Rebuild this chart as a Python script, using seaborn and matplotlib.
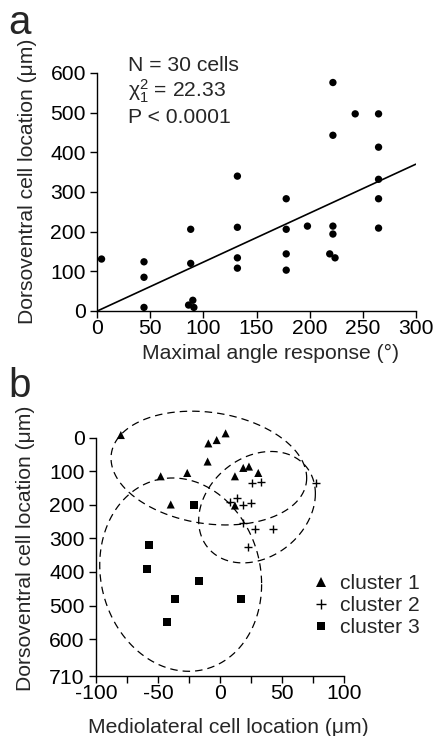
import numpy as np
import pandas as pd
import matplotlib
matplotlib.use("Agg")
import matplotlib.pyplot as plt
import seaborn as sns
from matplotlib.lines import Line2D

# ---------------- data: panel a ----------------
angle = [4, 44, 44, 44, 88, 88, 86, 90, 91,
         132, 132, 132, 132, 178, 178, 178, 178, 198,
         222, 222, 222, 222, 219, 224, 243, 265, 265, 265, 265, 265]
dv_loc = [131, 124, 85, 9, 206, 120, 15, 27, 9,
          340, 211, 134, 108, 283, 206, 144, 103, 214,
          576, 443, 214, 194, 144, 134, 497, 497, 413, 332, 283, 209]
fit_x = [0, 300]
fit_y = [0, 370]
a_xticks = [0, 50, 100, 150, 200, 250, 300]
a_yticks = [0, 100, 200, 300, 400, 500, 600]
stats_lines = ["N = 30 cells", r"$\mathregular{\chi_1^2}$ = 22.33", "P < 0.0001"]

# ---------------- data: panel b ----------------
c1_x = [-80, -9.5, -2.8, 4.4, -10.1, -47.9, -26.5, 11.9, 18.6, 23.2, 30.7, -39.8, 11.9]
c1_y = [-8, 17, 7, -13, 71, 115, 105, 115, 90, 86, 105, 199, 202]
c2_x = [25.4, 32.6, 77.1, 7.9, 13.8, 18.6, 24.6, 18.6, 28.0, 42.8, 22.5]
c2_y = [134, 131, 134, 192, 179, 202, 194, 253, 271, 271, 325]
c3_x = [-21.1, -57.1, -59.2, -17.0, -36.1, 16.5, -42.6]
c3_y = [201, 319, 391, 426, 480, 481, 549]
cluster_names = ["cluster 1", "cluster 2", "cluster 3"]
# ellipse outlines: centre x, centre y, half-width x, half-height y, phase
ell_cx = [-9.1, 29.7, -31.8]
ell_cy = [90.5, 207, 408]
ell_rx = [78.8, 47, 65.2]
ell_ry = [169.5, 166, 288]
ell_phase = [0.175, -0.245, 0.1]
b_xticks = [-100, -50, 0, 50, 100]
b_xminor = [-75, -25, 25, 75]
b_yticks = [0, 100, 200, 300, 400, 500, 600, 710]

# ---------------- style ----------------
sns.set_style("ticks")
plt.rcParams["font.family"] = ["Liberation Sans", "DejaVu Sans"]
plt.rcParams["mathtext.fontset"] = "custom"
plt.rcParams["mathtext.rm"] = "Liberation Sans"
plt.rcParams["mathtext.it"] = "Liberation Sans:italic"
plt.rcParams["axes.unicode_minus"] = False
FS = 15.2

W, H = 435, 736
fig = plt.figure(figsize=(W / 100, H / 100), dpi=100)

def px_axes(left, right, top, bottom):
    return fig.add_axes([left / W, 1 - bottom / H, (right - left) / W, (bottom - top) / H])

def style_axes(ax):
    for s in ["top", "right"]:
        ax.spines[s].set_visible(False)
    for s in ["left", "bottom"]:
        ax.spines[s].set_linewidth(1.0)
        ax.spines[s].set_color("black")
    ax.tick_params(axis="both", which="both", direction="out", length=5.2, width=1.0,
                   colors="black", labelsize=FS)
    ax.tick_params(axis="y", pad=3.0)
    ax.tick_params(axis="x", pad=0.5)
    ax.set_facecolor("white")

# ---------------- panel a ----------------
axa = px_axes(97.3, 415.7, 73, 311)
dfa = pd.DataFrame({"angle": angle, "dv": dv_loc})
sns.scatterplot(data=dfa, x="angle", y="dv", ax=axa, color="black", s=28,
                edgecolor="none", clip_on=False, zorder=3)
sns.lineplot(x=fit_x, y=fit_y, ax=axa, color="black", linewidth=1.2)
axa.set_xlim(0, 300)
axa.set_ylim(0, 600)
axa.set_xticks(a_xticks)
axa.set_yticks(a_yticks)
style_axes(axa)
axa.set_xlabel("Maximal angle response (°)", fontsize=FS)
axa.set_ylabel("Dorsoventral cell location (μm)", fontsize=FS)
axa.xaxis.set_label_coords(0.5426, -0.14)
axa.yaxis.set_label_coords(-0.19, 0.547)
for i, line in enumerate(stats_lines):
    axa.text(0.0955, 1.0097 - i * 0.1105, line, transform=axa.transAxes,
             fontsize=FS, va="baseline", ha="left")
fig.text(8 / W, 1 - 34 / H, "a", fontsize=29, va="baseline", ha="left")

# ---------------- panel b ----------------
axb = px_axes(96, 344.3, 437.7, 676)
sns.scatterplot(x=c1_x, y=c1_y, ax=axb, marker="^", color="black", s=34,
                edgecolor="none", clip_on=False, zorder=3)
sns.scatterplot(x=c2_x, y=c2_y, ax=axb, marker="+", color="black", s=34,
                linewidth=1.0, clip_on=False, zorder=3)
sns.scatterplot(x=c3_x, y=c3_y, ax=axb, marker="s", color="black", s=32,
                edgecolor="none", clip_on=False, zorder=3)
t = np.linspace(0, 2 * np.pi, 400)
for cx, cy, rx, ry, ph in zip(ell_cx, ell_cy, ell_rx, ell_ry, ell_phase):
    axb.plot(cx + rx * np.cos(t), cy + ry * np.sin(t + ph), color="black",
             linewidth=0.9, linestyle=(0, (6, 4)), clip_on=False, zorder=2)
axb.set_xlim(-100, 100)
axb.set_ylim(710, 0)
axb.set_xticks(b_xticks)
axb.set_xticks(b_xminor, minor=True)
axb.set_yticks(b_yticks)
style_axes(axb)
axb.set_xlabel("Mediolateral cell location (μm)", fontsize=FS)
axb.set_ylabel("Dorsoventral cell location (μm)", fontsize=FS)
axb.xaxis.set_label_coords(0.532, -0.178)
axb.yaxis.set_label_coords(-0.245, 0.537)

handles = [
    Line2D([], [], marker="^", color="black", linestyle="none", markersize=7, markeredgewidth=0),
    Line2D([], [], marker="+", color="black", linestyle="none", markersize=6.5, markeredgewidth=1.0),
    Line2D([], [], marker="s", color="black", linestyle="none", markersize=6.2, markeredgewidth=0),
]
axb.legend(handles, cluster_names, frameon=False, fontsize=FS, loc="center left",
           bbox_to_anchor=(0.8647, 0.295), borderaxespad=0, borderpad=0,
           handlelength=1.0, handletextpad=0.4, labelspacing=0.15)
fig.text(8 / W, 1 - 397 / H, "b", fontsize=29, va="baseline", ha="left")

fig.savefig("out.png", dpi=100, facecolor="white")
